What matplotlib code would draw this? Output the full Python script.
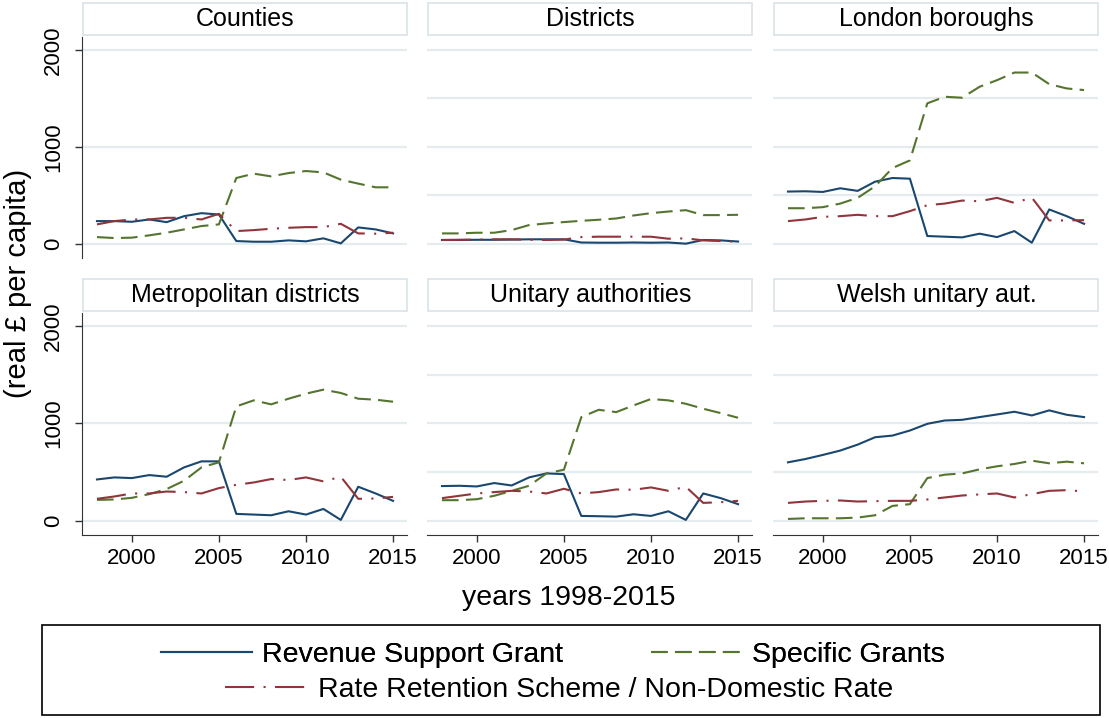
import numpy as np
import matplotlib
matplotlib.use("Agg")
import matplotlib.pyplot as plt
from matplotlib.patches import Rectangle
from matplotlib.lines import Line2D

plt.rcParams['font.family'] = ['Liberation Sans', 'DejaVu Sans']

years = np.arange(1998, 2016)

panels = ["Counties", "Districts", "London boroughs",
          "Metropolitan districts", "Unitary authorities", "Welsh unitary aut."]

rsg = {
    "Counties": [233, 233, 226, 250, 222, 284, 315, 301, 27, 20, 20, 34, 24, 55, 3, 168, 147, 106],
    "Districts": [38, 38, 40, 40, 42, 45, 45, 45, 12, 10, 10, 12, 10, 12, 0, 38, 34, 22],
    "London boroughs": [538, 541, 534, 572, 545, 640, 678, 671, 79, 72, 65, 103, 68, 130, 10, 353, 284, 205],
    "Metropolitan districts": [423, 444, 437, 468, 451, 547, 609, 609, 69, 62, 55, 96, 62, 120, 7, 348, 279, 203],
    "Unitary authorities": [355, 358, 351, 386, 361, 444, 485, 478, 48, 45, 41, 65, 48, 96, 7, 279, 231, 169],
    "Welsh unitary aut.": [599, 633, 675, 720, 781, 857, 874, 926, 995, 1029, 1036, 1064, 1091, 1119, 1081, 1133, 1088, 1064],
}
specific = {
    "Counties": [68, 58, 62, 86, 113, 147, 182, 199, 678, 723, 695, 729, 750, 736, 661, 620, 582, 582],
    "Districts": [106, 106, 113, 113, 140, 192, 209, 223, 236, 247, 260, 291, 315, 332, 346, 295, 295, 298],
    "London boroughs": [366, 366, 377, 414, 473, 592, 781, 860, 1449, 1517, 1507, 1620, 1688, 1767, 1767, 1647, 1603, 1586],
    "Metropolitan districts": [213, 217, 234, 272, 324, 410, 547, 599, 1174, 1236, 1195, 1253, 1305, 1346, 1312, 1253, 1243, 1222],
    "Unitary authorities": [210, 210, 220, 255, 306, 358, 485, 523, 1064, 1139, 1115, 1184, 1250, 1236, 1201, 1150, 1105, 1057],
    "Welsh unitary aut.": [17, 24, 24, 24, 31, 55, 151, 169, 437, 472, 485, 527, 558, 582, 616, 589, 606, 589],
}
rate = {
    "Counties": [199, 233, 250, 250, 267, 267, 250, 308, 130, 140, 154, 164, 171, 171, 205, 106, 103, 113],
    "Districts": [38, 40, 42, 45, 45, 40, 38, 42, 68, 72, 72, 72, 72, 51, 55, 34, 27, 20],
    "London boroughs": [233, 250, 277, 284, 298, 284, 284, 336, 397, 414, 445, 438, 473, 421, 476, 240, 240, 243],
    "Metropolitan districts": [224, 248, 279, 279, 299, 293, 279, 334, 368, 392, 427, 417, 444, 403, 451, 224, 227, 244],
    "Unitary authorities": [231, 255, 279, 293, 306, 299, 279, 327, 279, 293, 320, 317, 341, 306, 348, 182, 189, 203],
    "Welsh unitary aut.": [182, 196, 203, 207, 196, 200, 203, 203, 217, 238, 258, 269, 279, 238, 272, 306, 313, 300],
}

series_labels = ["Revenue Support Grant", "Specific Grants",
                 "Rate Retention Scheme / Non-Domestic Rate"]

NAVY = "#1a476f"
GREEN = "#55752f"
MAROON = "#90353b"
GRID = "#e4ecef"
BOXEDGE = "#d9e3e8"
DASH = (0, (8, 3.5))
DASHDOT = (0, (14, 4.5, 1, 4.5))

W, H = 1109, 718
fig = plt.figure(figsize=(W / 100, H / 100), dpi=100)


def frac(x0, y0, x1, y1):
    return [x0 / W, 1 - y1 / H, (x1 - x0) / W, (y1 - y0) / H]


col_x = [82, 427, 773]
row_y = [(37, 258), (313, 535)]
box_y = [(3, 35), (279, 311)]
PW = 325

for i, name in enumerate(panels):
    r, c = divmod(i, 3)
    x0 = col_x[c]
    y0, y1 = row_y[r]
    ax = fig.add_axes(frac(x0, y0, x0 + PW, y1))
    ax.set_xlim(1997.14, 2015.8)
    ax.set_ylim(-148, 2134)

    grid_vals = [0, 1000, 2000] if c == 0 else [0, 500, 1000, 1500, 2000]
    for g in grid_vals:
        ax.axhline(g, color=GRID, lw=1.6, zorder=0)

    ax.plot(years, rsg[name], color=NAVY, lw=1.5, ls="-")
    ax.plot(years, specific[name], color=GREEN, lw=1.5, ls=DASH)
    ax.plot(years, rate[name], color=MAROON, lw=1.5, ls=DASHDOT)

    for s in ["top", "right"]:
        ax.spines[s].set_visible(False)
    ax.spines["left"].set_visible(c == 0)
    ax.spines["bottom"].set_visible(r == 1)
    ax.spines["left"].set_color("#333333")
    ax.spines["bottom"].set_color("#333333")

    if c == 0:
        ax.set_yticks([0, 1000, 2000])
        ax.set_yticklabels(["0", "1000", "2000"], rotation=90, va="center", fontsize=16)
        ax.tick_params(axis="y", length=5, width=1, pad=8, color="#333333")
    else:
        ax.set_yticks([])
    if r == 1:
        ax.set_xticks([2000, 2005, 2010, 2015])
        ax.tick_params(axis="x", length=5, width=1, pad=4, labelsize=16, color="#333333")
    else:
        ax.set_xticks([])

    by0, by1 = box_y[r]
    fig.add_artist(Rectangle((x0 / W + 1 / W, 1 - by1 / H), (PW - 1) / W, (by1 - by0) / H,
                             transform=fig.transFigure, facecolor="white",
                             edgecolor=BOXEDGE, lw=1.2))
    fig.text((x0 + PW / 2 + 1) / W, 1 - (by0 + by1) / 2 / H, name,
             ha="center", va="center", fontsize=18)

fig.text(18 / W, 1 - 283 / H, "(real £ per capita)", rotation=90,
         ha="center", va="center", fontsize=21)
fig.text(569 / W, 1 - 598 / H, "years 1998-2015", ha="center", va="center", fontsize=20.5)

# legend frame
fig.add_artist(Rectangle((42 / W, 1 - 715 / H), (1100 - 42) / W, (715 - 625) / H,
                         transform=fig.transFigure, facecolor="white",
                         edgecolor="black", lw=1.2))

h1 = Line2D([], [], color=NAVY, lw=1.5, ls="-")
h2 = Line2D([], [], color=GREEN, lw=1.5, ls=DASH)
h3 = Line2D([], [], color=MAROON, lw=1.5, ls=DASHDOT)

leg1 = fig.legend([h1, h2], series_labels[:2], ncol=2, frameon=False,
                  loc="center", bbox_to_anchor=(553 / W, 1 - 655 / H),
                  fontsize=20.5, handlelength=3.2, handletextpad=0.35,
                  columnspacing=3.1, borderpad=0, borderaxespad=0)
leg2 = fig.legend([h3], series_labels[2:], frameon=False,
                  loc="center", bbox_to_anchor=(559 / W, 1 - 690 / H),
                  fontsize=20.5, handlelength=2.9, handletextpad=0.35,
                  borderpad=0, borderaxespad=0)
fig.add_artist(leg1)

fig.savefig("out.png", dpi=100, facecolor="white")
